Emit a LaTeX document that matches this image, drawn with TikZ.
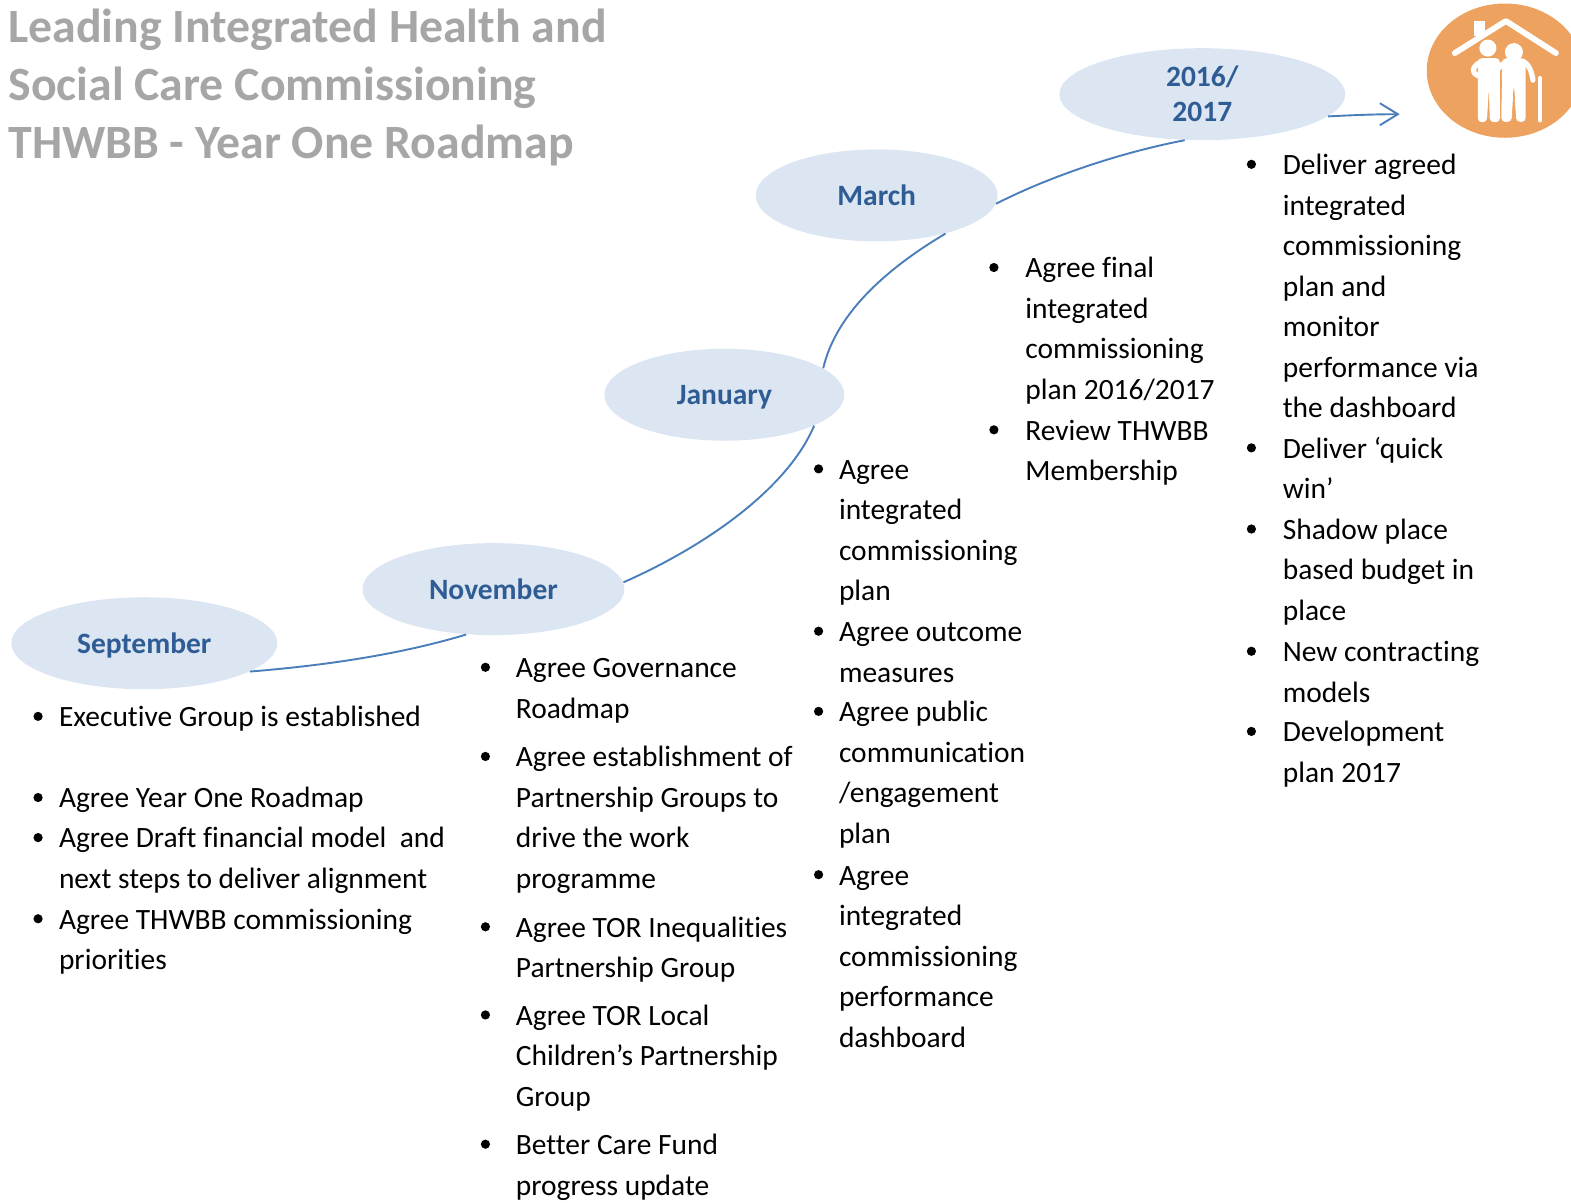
\documentclass[tikz,border=0pt]{standalone}
\usepackage{fontspec}
\setmainfont[Ligatures=NoCommon]{Carlito}
\usetikzlibrary{arrows.meta,shapes.geometric}

\definecolor{monthfill}{HTML}{DCE6F2}
\definecolor{monthtext}{HTML}{2F5C94}
\definecolor{pathblue}{HTML}{4A7EBB}
\definecolor{titlegrey}{HTML}{A6A6A6}
\definecolor{iconorange}{HTML}{EDA25F}

\tikzset{
  month/.style={ellipse,fill=monthfill,inner sep=0pt,text=monthtext,align=center,
    minimum height=46pt,font=\fontsize{14.75}{17.5}\selectfont\bfseries},
  monthone/.style={month,text height=11.5pt,text depth=1.5pt},
  itemtext/.style={anchor=north west,inner sep=0pt,align=left,yshift=9.2pt,
    font=\fontsize{14.73}{20.25}\selectfont},
  itemdot/.style={circle,fill=black,inner sep=0pt,minimum size=4.6pt},
  roadline/.style={draw=pathblue,line width=0.95pt},
  iconline/.style={draw=white,line cap=round,line join=round}
}

\begin{document}
\begin{tikzpicture}[x=0.501pt,y=-0.501pt,>={Straight Barb[length=9pt,width=11pt]}]
   \useasboundingbox (0,0) rectangle (1568,1200);

   \node[anchor=north west,inner sep=0pt,align=left,text=titlegrey,
         font=\fontsize{23.9}{28.8}\selectfont\bfseries] (title) at (8,9)
         {Leading Integrated Health and\\Social Care Commissioning\\THWBB - Year One Roadmap};

   % curve first, ellipses sit on top
   \node[monthone,minimum width=133pt] (sept) at (144,642) {September};
   \node[monthone,minimum width=131pt] (nov)  at (492.5,588) {November};
   \node[monthone,minimum width=120pt] (jan)  at (723,394) {January};
   \node[monthone,minimum width=121pt] (mar)  at (875,195) {March};
   \node[month,minimum width=143pt] (year) at (1200,94) {2016/\\2017};
   \coordinate (roadend) at (1397,114);

   \draw[roadline] (sept.-15) .. controls (340,663) and (410,650) .. (nov.-121);
   \draw[roadline] (nov.3) .. controls (700,547) and (785,490) .. (jan.-19.5);
   \draw[roadline] (jan.15) .. controls (835,310) and (890,265) .. (mar.-29);
   \draw[roadline] (mar.-4) .. controls (1050,175) and (1120,152) .. (year.-111);
   \draw[roadline,->] (year.-10) .. controls (1350,115) and (1370,114) .. (roadend);

   % icon
   \fill[iconorange] (1502,70.5) ellipse [x radius=78,y radius=67];
   \fill[white] (1471,21) rectangle (1482,36);
   \draw[iconline,line width=2.9pt] (1452,53) -- (1503,21) -- (1553,53);
   \fill[white] (1485,48) circle (8.5);
   \fill[white,rounded corners=2pt] (1475,58) -- (1497,58) -- (1497,122) -- (1487,122)
      -- (1486,88) -- (1484,122) -- (1475,122) -- cycle;
   \draw[iconline,line width=2.6pt] (1478,62) .. controls (1468,66) and (1467,76) .. (1482,77);
   \fill[white,draw=iconorange,line width=0.3pt,rounded corners=2pt] (1499,58) -- (1523,58)
      -- (1523,122) -- (1513,122) -- (1511,87) -- (1509,122) -- (1498,122) -- cycle;
   \fill[white] (1511,52) circle (9);
   \draw[iconline,line width=2.6pt] (1504,61) .. controls (1493,68) and (1488,78) .. (1490,85);
   \draw[iconline,line width=2.6pt] (1520,61) .. controls (1526,64) and (1529,72) .. (1530,80);
   \draw[iconline,line width=2.2pt] (1537,78) -- (1537,120);

   % September
   \foreach \nm/\yy/\txt in {sa/715/{Executive Group is established},
       sb/796/{Agree Year One Roadmap},
       sc/836/{Agree Draft financial model~ and\\next steps to deliver alignment},
       sd/917/{Agree THWBB commissioning\\priorities}}
     {\node[itemdot] (\nm dot) at (38,\yy) {};
      \node[itemtext] (\nm) at (58.5,\yy) {\strut\txt};}

   % November
   \foreach \nm/\yy/\txt in {na/666/{Agree Governance\\Roadmap},
       nb/755/{Agree establishment of\\Partnership Groups to\\drive the work\\programme},
       nc/925/{Agree TOR Inequalities\\Partnership Group},
       nd/1013/{Agree TOR Local\\Children’s Partnership\\Group},
       ne/1142/{Better Care Fund\\progress update}}
     {\node[itemdot] (\nm dot) at (484.5,\yy) {};
      \node[itemtext] (\nm) at (514.5,\yy) {\strut\txt};}

   % January
   \foreach \nm/\yy/\txt in {ja/468/{Agree\\integrated\\commissioning\\plan},
       jb/630/{Agree outcome\\measures},
       jc/710/{Agree public\\communication\\/engagement\\plan},
       jd/873/{Agree\\integrated\\commissioning\\performance\\dashboard}}
     {\node[itemdot] (\nm dot) at (817,\yy) {};
      \node[itemtext] (\nm) at (837,\yy) {\strut\txt};}

   % March
   \foreach \nm/\yy/\txt in {ma/267/{Agree final\\integrated\\commissioning\\plan 2016/2017},
       mb/429/{Review THWBB\\Membership}}
     {\node[itemdot] (\nm dot) at (992,\yy) {};
      \node[itemtext] (\nm) at (1023,\yy) {\strut\txt};}

   % 2016/2017
   \foreach \nm/\yy/\txt in {ya/164/{Deliver agreed\\integrated\\commissioning\\plan and\\monitor\\performance via\\the dashboard},
       yb/447/{Deliver ‘quick\\win’},
       yc/528/{Shadow place\\based budget in\\place},
       yd/650/{New contracting\\models},
       ye/730/{Development\\plan 2017}}
     {\node[itemdot] (\nm dot) at (1249,\yy) {};
      \node[itemtext] (\nm) at (1280,\yy) {\strut\txt};}
 \end{tikzpicture}
\end{document}
